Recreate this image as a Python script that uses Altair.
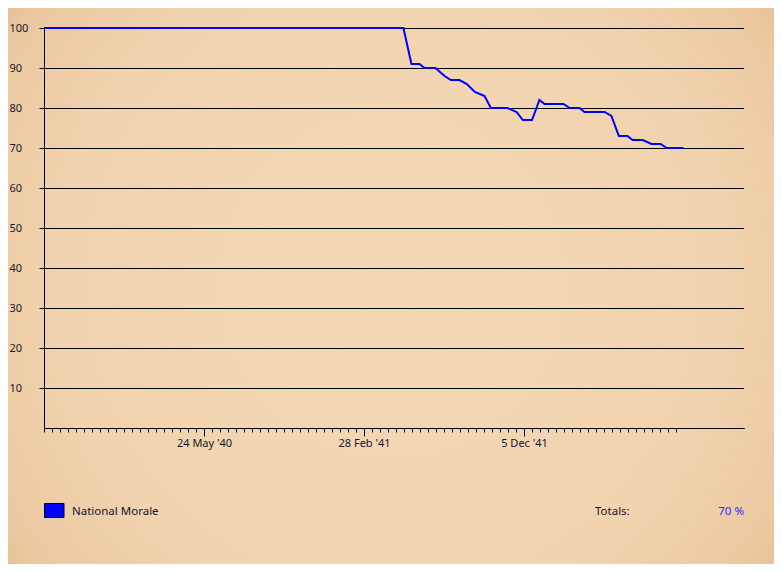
import altair as alt
import pandas as pd

# ---------------- data ----------------
dates = [
    "1939-08-18", "1941-05-08", "1941-05-22", "1941-06-05", "1941-06-14",
    "1941-07-03", "1941-07-19", "1941-07-30", "1941-08-14", "1941-08-27",
    "1941-09-10", "1941-09-27", "1941-10-08", "1941-11-06", "1941-11-22",
    "1941-12-03", "1941-12-19", "1942-01-01", "1942-01-10", "1942-02-12",
    "1942-02-23", "1942-03-12", "1942-03-21", "1942-04-25", "1942-05-07",
    "1942-05-20", "1942-06-04", "1942-06-13", "1942-07-01", "1942-07-16",
    "1942-08-01", "1942-08-12", "1942-09-10",
]
morale = [
    100, 100, 91, 91, 90,
    90, 88, 87, 87, 86,
    84, 83, 80, 80, 79,
    77, 77, 82, 81, 81,
    80, 80, 79, 79, 78,
    73, 73, 72, 72, 71,
    71, 70, 70,
]
series_name = "National Morale"
totals_label = "Totals:"
y_ticks = [10, 20, 30, 40, 50, 60, 70, 80, 90, 100]
major_ticks = ["1940-05-24", "1941-02-28", "1941-12-05"]
x_start = "1939-08-18"
x_end = "1942-12-25"
minor_tick_count = 80          # one small tick every 14 days
minor_tick_step = "14D"

# ---------------- helpers ----------------
def dt(s):
    t = pd.Timestamp(s)
    return alt.DateTime(year=t.year, month=t.month, date=t.day, utc=True)

minor_ticks = [dt(d) for d in pd.date_range(x_start, periods=minor_tick_count, freq=minor_tick_step)]
major_vals = [dt(d) for d in major_ticks]

df = pd.DataFrame({"date": dates, "value": morale, "series": series_name})
grid_df = pd.DataFrame({"tick": y_ticks})
legend_df = pd.DataFrame({"name": [series_name], "label": [totals_label],
                          "total": [f"{morale[-1]} %"]})

TXT = "#16162a"
FONT = "Noto Sans"
x_scale = alt.Scale(type="utc", domain=[dt(x_start), dt(x_end)])
y_scale = alt.Scale(domain=[0, 100], nice=False)

y_axis = alt.Axis(values=y_ticks, tickSize=5, tickColor="black",
                  domainColor="black", labelColor=TXT, labelFont=FONT,
                  labelFontSize=11, labelAlign="left", labelPadding=30,
                  grid=False, zindex=1, title=None)

# parchment background with vignette
bg = alt.Chart(alt.Data(values=[{}])).mark_rect(
    fill=alt.RadialGradient(
        gradient="radial",
        stops=[
            alt.GradientStop(offset=0.0, color="#f4d8b6"),
            alt.GradientStop(offset=0.6, color="#f1d3af"),
            alt.GradientStop(offset=0.82, color="#ebc8a0"),
            alt.GradientStop(offset=0.95, color="#deb083"),
            alt.GradientStop(offset=1.0, color="#c99764"),
        ],
        x1=0.5, y1=0.5, r1=0.0, x2=0.5, y2=0.5, r2=0.72,
    )
).encode(
    x=alt.value(-36), x2=alt.value(730), y=alt.value(-20), y2=alt.value(536)
)

grid = alt.Chart(grid_df).mark_rule(color="black", strokeWidth=1, yOffset=0.5).encode(
    y=alt.Y("tick:Q", scale=y_scale, axis=y_axis),
    x=alt.value(0), x2=alt.value(700),
)

line = alt.Chart(df).mark_line(color="#0000ff", strokeWidth=2).encode(
    x=alt.X("date:T", scale=x_scale, title=None,
            axis=alt.Axis(orient="bottom", values=major_vals,
                          labelExpr="utcFormat(datum.value, \"%-d %b '%y\")",
                          tickSize=8, tickColor="black",
                          domainColor="black", labelColor=TXT, labelFont=FONT,
                          labelFontSize=11, labelPadding=1, grid=False, zindex=1,
                          labelFlush=False)),
    y=alt.Y("value:Q", scale=y_scale, axis=y_axis),
)

minor = alt.Chart(df).mark_line(opacity=0).encode(
    x=alt.X("date:T", scale=x_scale, title=None,
            axis=alt.Axis(orient="bottom", values=minor_ticks, labels=False,
                          tickSize=4, tickColor="black", domainColor="black",
                          grid=False, zindex=1)),
    y=alt.Y("value:Q", scale=y_scale, axis=y_axis),
)

leg_box = alt.Chart(legend_df).mark_rect(fill="#0000ff", stroke="black", strokeWidth=1).encode(
    x=alt.value(0.5), x2=alt.value(20), y=alt.value(475.5), y2=alt.value(489.5)
)
leg_text = alt.Chart(legend_df).mark_text(
    align="left", baseline="middle", font=FONT, fontSize=11.5, color=TXT
).encode(text="name:N", x=alt.value(28), y=alt.value(484))
tot_text = alt.Chart(legend_df).mark_text(
    align="left", baseline="middle", font=FONT, fontSize=11.5, color=TXT
).encode(text="label:N", x=alt.value(551), y=alt.value(484))
tot_val = alt.Chart(legend_df).mark_text(
    align="right", baseline="middle", font=FONT, fontSize=11.5, color="#2a2aff"
).encode(text="total:N", x=alt.value(700), y=alt.value(484))

chart = alt.layer(bg, grid, minor, line, leg_box, leg_text, tot_text, tot_val).resolve_scale(
    x="independent"
).properties(
    width=700, height=400,
    autosize=alt.AutoSizeParams(type="none"),
    padding={"left": 36, "top": 20, "right": 30, "bottom": 136},
    background="#efd1ac",
).configure_view(stroke=None)

chart.save("out.html", embed_options={"renderer": "svg", "actions": False})
